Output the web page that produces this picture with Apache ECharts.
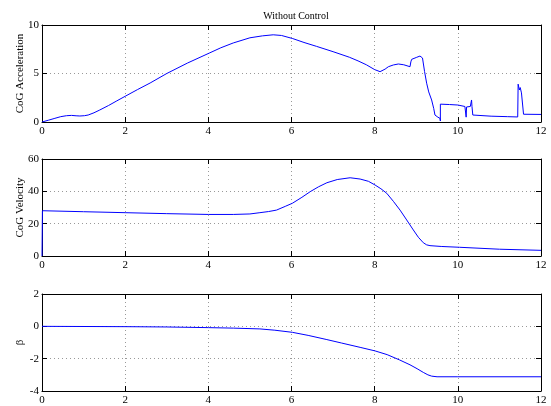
<!DOCTYPE html>
<html>
<head>
<meta charset="utf-8">
<script src="https://cdn.jsdelivr.net/npm/echarts@6/dist/echarts.min.js"></script>
<style>
  html, body { margin: 0; padding: 0; background: #fff; }
  #chart { width: 551px; height: 406px; }
</style>
</head>
<body>
<div id="chart"></div>
<script>
// CoG acceleration
const accTime = [0, 0.15, 0.31, 0.45, 0.59, 0.71, 0.82, 0.91, 1.02, 1.11, 1.25, 1.39, 1.6, 1.8, 2.0,
  2.3, 2.6, 3.0, 3.5, 4.02, 4.3, 4.6, 5.0, 5.3, 5.56, 5.76, 6.03, 6.3, 6.6, 7.0, 7.39, 7.6, 7.8, 8.0, 8.13,
  8.25, 8.33, 8.45, 8.57, 8.7, 8.85, 8.87, 8.89, 9.0, 9.09, 9.15, 9.2, 9.25, 9.3, 9.37, 9.42,
  9.45, 9.52, 9.57, 9.58, 9.58, 9.8, 10.0, 10.17, 10.19, 10.2, 10.21, 10.3, 10.32, 10.33, 10.34,
  10.36, 10.8, 11.2, 11.44, 11.45, 11.48, 11.5, 11.53, 11.56, 11.58, 12];
const accValue = [0, 0.18, 0.38, 0.55, 0.65, 0.68, 0.64, 0.62, 0.65, 0.72, 0.95, 1.24, 1.7, 2.18, 2.65,
  3.35, 4.02, 5.0, 6.08, 7.1, 7.65, 8.15, 8.68, 8.88, 8.99, 8.92, 8.6, 8.2, 7.8, 7.25, 6.68, 6.3, 5.9, 5.4, 5.19,
  5.45, 5.7, 5.88, 5.98, 5.9, 5.7, 6.2, 6.46, 6.65, 6.8, 6.6, 5.2, 4.0, 3.1, 2.27, 1.4,
  0.72, 0.5, 0.38, 0.1, 1.84, 1.8, 1.75, 1.6, 1.58, 0.5, 1.55, 1.6, 1.8, 2.27, 1.6,
  0.72, 0.6, 0.55, 0.52, 3.9, 3.3, 3.55, 3.0, 2.9, 0.8, 0.78];

// CoG velocity
const velTime = [0, 0.01, 1, 2, 3, 4, 4.6, 5.0, 5.24, 5.45, 5.64, 5.85, 6.02, 6.25, 6.45, 6.65, 6.85,
  7.1, 7.41, 7.65, 7.85, 8.01, 8.15, 8.29, 8.45, 8.61, 8.77, 8.93, 9.05, 9.17, 9.25, 9.33, 9.6,
  10.04, 11, 12];
const velValue = [0, 28.0, 27.4, 26.8, 26.2, 25.7, 25.7, 26.0, 26.8, 27.5, 28.4, 30.7, 32.6, 36.3, 39.8,
  42.8, 45.3, 47.3, 48.4, 47.6, 46.2, 43.9, 41.6, 38.8, 33.8, 28.4, 22.3, 16.1, 11.6, 8.2, 6.9, 6.4, 5.9,
  5.4, 4.2, 3.5];

// beta
const betaTime = [0, 2, 3, 4, 4.6, 5.24, 5.6, 6.02, 6.4, 6.85, 7.2, 7.65, 8.01, 8.3, 8.6, 8.85, 9.02,
  9.17, 9.28, 9.37, 9.5, 10, 12];
const betaValue = [0, -0.02, -0.04, -0.08, -0.11, -0.16, -0.24, -0.37, -0.56, -0.82, -1.03, -1.3, -1.52,
  -1.75, -2.08, -2.38, -2.62, -2.85, -3.0, -3.08, -3.12, -3.12, -3.12];

const pairs = (t, v) => t.map((x, i) => [x, v[i]]);

const font = 'Liberation Serif';
const gridTops = [25, 159, 294];
const gridH = 97;
const yRanges = [[0, 10, 5], [0, 60, 20], [-4, 2, 2]];
const yNames = ['CoG Acceleration', 'CoG Velocity', 'β'];
const seriesData = [pairs(accTime, accValue), pairs(velTime, velValue), pairs(betaTime, betaValue)];

const tick = { show: true, inside: true, length: 5, lineStyle: { color: '#000', width: 1 } };
const axisLine = { show: true, onZero: false, lineStyle: { color: '#000', width: 1 } };
const dotted = { show: true, lineStyle: { color: '#999', type: [1, 3], width: 1 } };

const grid = [], xAxis = [], yAxis = [], series = [], graphic = [];
gridTops.forEach((top, i) => {
  grid.push({ left: 42, right: 10, top: top, height: gridH });
  const xBase = { type: 'value', gridIndex: i, min: 0, max: 12, interval: 2, axisLine, axisTick: tick };
  xAxis.push(Object.assign({}, xBase, {
    position: 'bottom',
    axisLabel: { color: '#000', fontFamily: font, fontSize: 11, margin: 4 },
    splitLine: dotted
  }));
  xAxis.push(Object.assign({}, xBase, {
    position: 'top', axisLabel: { show: false }, splitLine: { show: false }
  }));
  const [mn, mx, step] = yRanges[i];
  const yBase = { type: 'value', gridIndex: i, min: mn, max: mx, interval: step, axisLine, axisTick: tick };
  yAxis.push(Object.assign({}, yBase, {
    position: 'left',
    axisLabel: { color: '#000', fontFamily: font, fontSize: 11, margin: 3 },
    splitLine: dotted
  }));
  yAxis.push(Object.assign({}, yBase, {
    position: 'right', axisLabel: { show: false }, splitLine: { show: false }
  }));
  series.push({
    type: 'line', xAxisIndex: i * 2, yAxisIndex: i * 2,
    data: seriesData[i], showSymbol: false, symbol: 'none',
    lineStyle: { color: '#0000ff', width: 1 }, animation: false
  });
  // y axis title, MATLAB style
  graphic.push({
    type: 'text', x: 20, y: top + gridH / 2, rotation: Math.PI / 2,
    style: {
      text: yNames[i], fill: '#000', font: '11px "Liberation Serif"',
      textAlign: 'center', textVerticalAlign: 'middle'
    }
  });
});

const chart = echarts.init(document.getElementById('chart'));
chart.setOption({
  backgroundColor: '#fff',
  animation: false,
  title: {
    text: 'Without Control', left: 291, top: 6, textAlign: 'center',
    textStyle: { color: '#000', fontFamily: font, fontSize: 10, fontWeight: 'normal' }
  },
  grid, xAxis, yAxis, series, graphic
});
</script>
</body>
</html>
